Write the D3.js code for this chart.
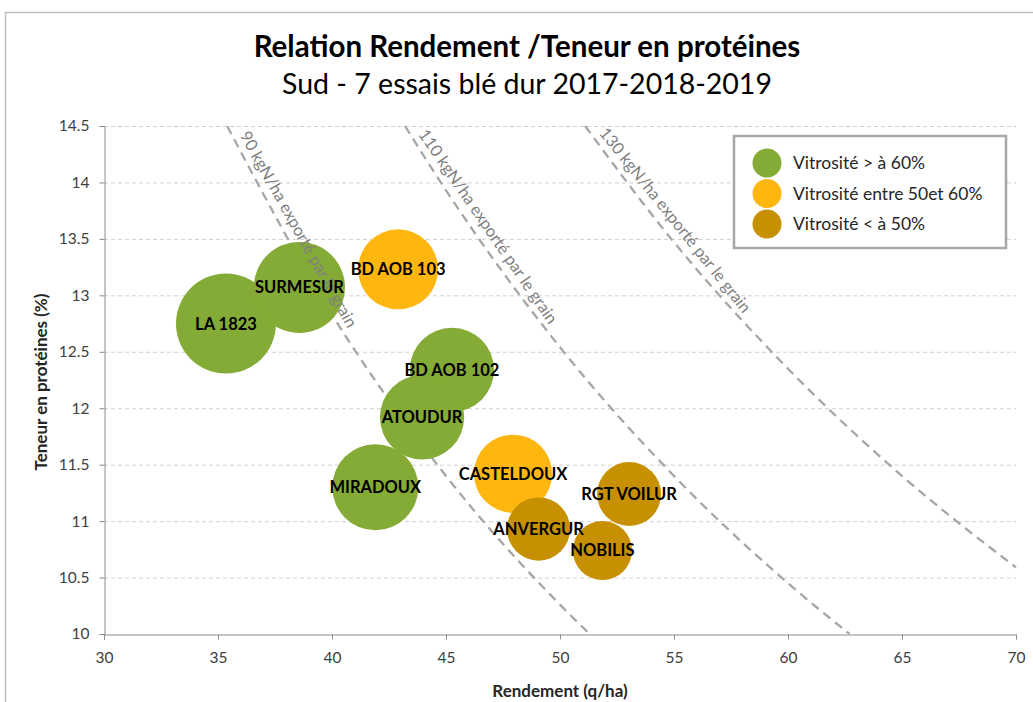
<!DOCTYPE html>
<html>
<head>
<meta charset="utf-8">
<script src="https://cdn.jsdelivr.net/npm/d3@7"></script>
<style>
  body, html { margin:0; padding:0; background:#fff; }
  svg { display:block; font-family: Lato, "Open Sans", Arial, sans-serif; }
</style>
</head>
<body>
<svg id="chart" width="1033" height="702"></svg>
<script>
// bubble data
var varieties = ["LA 1823","SURMESUR","BD AOB 103","BD AOB 102","ATOUDUR","MIRADOUX","CASTELDOUX","ANVERGUR","RGT VOILUR","NOBILIS"];
var rendement = [35.35, 38.57, 42.9, 45.26, 43.95, 41.9, 47.94, 49.06, 53.03, 51.86];
var proteines = [12.75, 13.07, 13.23, 12.34, 11.92, 11.30, 11.42, 10.93, 11.24, 10.74];
var tailles   = [100, 83, 64, 71, 71, 74, 61, 40, 41, 35];
var classes   = [0, 0, 1, 0, 0, 0, 1, 2, 2, 2];

var legendLabels = ["Vitrosité > à 60%", "Vitrosité entre 50et 60%", "Vitrosité < à 50%"];
var legendColors = ["#84ab35", "#ffb60f", "#c79000"];

// iso-export lines (kgN/ha)
var isoLabels = ["90 kgN/ha exporté par le grain", "110 kgN/ha exporté par le grain", "130 kgN/ha exporté par le grain"];
var iso90  = [[35.4,14.5],[40,12.83],[45,11.4],[50,10.26],[51.3,10]];
var iso110 = [[43.2,14.5],[45,13.93],[50,12.54],[55,11.4],[60,10.45],[62.7,10]];
var iso130 = [[51.1,14.5],[55,13.47],[60,12.35],[65,11.4],[70,10.59]];

var xTicks = [30,35,40,45,50,55,60,65,70];
var yTicks = [10,10.5,11,11.5,12,12.5,13,13.5,14,14.5];

var svg = d3.select("#chart");

// chart frame
svg.append("rect").attr("x",5.5).attr("y",12.5).attr("width",1040).attr("height",700)
   .attr("fill","none").attr("stroke","#bfbfbf").attr("stroke-width",1.5);

var x = d3.scaleLinear().domain([30,70]).range([104,1016]);
var y = d3.scaleLinear().domain([10,14.5]).range([634,126]);
var r = d3.scaleSqrt().domain([0,100]).range([0,50]);

// title
svg.append("text").attr("x",527).attr("y",57).attr("text-anchor","middle")
   .style("font-size","29.5px").style("font-weight","bold").attr("fill","#000")
   .text("Relation Rendement /Teneur en protéines");
svg.append("text").attr("x",527).attr("y",94).attr("text-anchor","middle")
   .style("font-size","28.5px").attr("fill","#000")
   .text("Sud - 7 essais blé dur 2017-2018-2019");

// gridlines
svg.append("g").selectAll("line").data(yTicks.filter(function(d){return d>10;})).enter()
   .append("line")
   .attr("x1",104).attr("x2",1016)
   .attr("y1",function(d){return y(d)+0.5;}).attr("y2",function(d){return y(d)+0.5;})
   .attr("stroke","#d0d0d0").attr("stroke-width",1).attr("stroke-dasharray","4,3");

// axes
var xAxis = svg.append("g").attr("transform","translate(0,634.5)")
   .call(d3.axisBottom(x).tickValues(xTicks).tickSize(5).tickPadding(12).tickFormat(d3.format("d")));
var yAxis = svg.append("g").attr("transform","translate(104.5,0)")
   .call(d3.axisLeft(y).tickValues(yTicks).tickSize(5).tickPadding(10).tickFormat(function(d){return String(d);}));
[xAxis, yAxis].forEach(function(a){
  a.select(".domain").attr("stroke","#8c8c8c");
  a.selectAll(".tick line").attr("stroke","#8c8c8c");
  a.selectAll(".tick text").attr("fill","#404040").style("font-size","15.5px").style("font-family","Lato, 'Open Sans', Arial, sans-serif");
});

// axis titles
svg.append("text").attr("x",560).attr("y",697).attr("text-anchor","middle")
   .style("font-size","17px").style("font-weight","bold").attr("fill","#262626")
   .text("Rendement (q/ha)");
svg.append("text").attr("transform","translate(47,382) rotate(-90)").attr("text-anchor","middle")
   .style("font-size","17px").style("font-weight","bold").attr("fill","#262626")
   .text("Teneur en protéines (%)");

// iso lines (below bubbles)
var line = d3.line().x(function(d){return x(d[0]);}).y(function(d){return y(d[1]);}).curve(d3.curveMonotoneX);
var isoData = [iso90, iso110, iso130];
var isoG = svg.append("g");
var isoPaths = isoData.map(function(pts){
  return isoG.append("path").attr("d",line(pts))
      .attr("fill","none").attr("stroke","#a6a6a6").attr("stroke-width",2.3)
      .attr("stroke-dasharray","9,6");
});

// bubbles
var bubbles = varieties.map(function(v,i){
  return {name:v, x:rendement[i], y:proteines[i], s:tailles[i], c:classes[i]};
});
svg.append("g").selectAll("circle").data(bubbles).enter().append("circle")
   .attr("cx",function(d){return x(d.x);})
   .attr("cy",function(d){return y(d.y);})
   .attr("r",function(d){return r(d.s);})
   .attr("fill",function(d){return legendColors[d.c];});

// iso labels: straight, along the chord of the top part of each line
var labG = svg.append("g");
isoPaths.forEach(function(p, i){
  var node = p.node();
  var p0 = node.getPointAtLength(0), p1 = node.getPointAtLength(230);
  var ang = Math.atan2(p1.y - p0.y, p1.x - p0.x) * 180 / Math.PI;
  labG.append("text")
      .attr("transform","translate(" + p0.x + "," + p0.y + ") rotate(" + ang + ")")
      .attr("x",14).attr("y",-6)
      .style("font-size","16.5px").attr("fill","#808080")
      .text(isoLabels[i]);
});

svg.append("g").selectAll("text").data(bubbles).enter().append("text")
   .attr("x",function(d){return x(d.x);})
   .attr("y",function(d){return y(d.y)+6;})
   .attr("text-anchor","middle")
   .style("font-size","16.5px").style("font-weight","bold").attr("fill","#000")
   .text(function(d){return d.name;});

// legend
var lg = svg.append("g");
lg.append("rect").attr("x",734).attr("y",136).attr("width",272).attr("height",112)
  .attr("fill","#fff").attr("stroke","#a6a6a6").attr("stroke-width",2.5);
legendLabels.forEach(function(t,i){
  lg.append("circle").attr("cx",767).attr("cy",163+i*30.5).attr("r",14.5).attr("fill",legendColors[i]);
  lg.append("text").attr("x",793).attr("y",169+i*30.5).style("font-size","17.5px").attr("fill","#262626").text(t);
});
</script>
</body>
</html>
